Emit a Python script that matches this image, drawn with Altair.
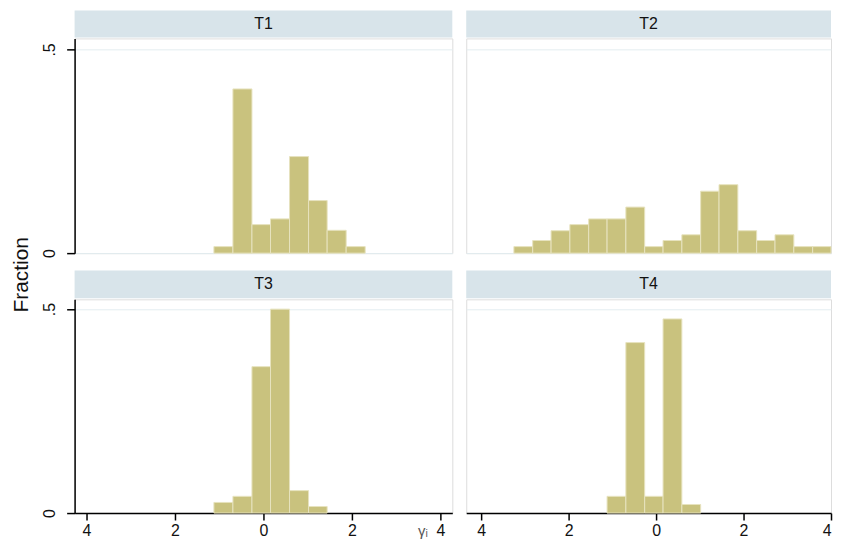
import altair as alt
import pandas as pd

# ---- data ----
bin_edges = [-3.25, -2.82, -2.40, -1.97, -1.54, -1.12, -0.69, -0.26, 0.16,
             0.59, 1.02, 1.44, 1.87, 2.30, 2.72, 3.15, 3.58, 4.00]
panels = ["T1", "T2", "T3", "T4"]
frac_t1 = [0, 0, 0, 0, 0, 0.016, 0.403, 0.070, 0.084, 0.237, 0.129, 0.056, 0.016, 0, 0, 0, 0]
frac_t2 = [0.016, 0.031, 0.055, 0.070, 0.084, 0.084, 0.113, 0.016, 0.031, 0.045,
           0.152, 0.168, 0.055, 0.031, 0.045, 0.016, 0.016]
frac_t3 = [0, 0, 0, 0, 0, 0.026, 0.041, 0.359, 0.500, 0.055, 0.016, 0, 0, 0, 0, 0, 0]
frac_t4 = [0, 0, 0, 0, 0, 0.041, 0.418, 0.041, 0.476, 0.021, 0, 0, 0, 0, 0, 0, 0]
x_ticks = [-4, -2, 0, 2, 4]
y_ticks = [0, 0.5]
x_title = "γᵢ"
y_title = "Fraction"

FONT = "Liberation Sans"
BAR = "#C9C27E"
BAR_EDGE = "#E7E3BE"
STRIP = "#D8E4EA"
GRID = "#E3EDF0"


def panel(name, fracs, show_y, show_x, width, height, xdom, ytop, strip_top,
          with_title=False):
    df = pd.DataFrame({"lo": bin_edges[:-1], "hi": bin_edges[1:], "frac": fracs})
    df = df[df["frac"] > 0].copy()
    df["base"] = 0.0

    xscale = alt.Scale(domain=xdom, nice=False, zero=False)
    yscale = alt.Scale(domain=[0, ytop], nice=False, zero=True)

    if show_x:
        xkw = dict(values=x_ticks, labelExpr="format(abs(datum.value), 'd')",
                   grid=False, domain=True, ticks=True, tickSize=7,
                   labelPadding=3, labelFontSize=16, labelFont=FONT,
                   labelColor="#111", domainColor="#000", tickColor="#000",
                   domainWidth=1.5, tickWidth=1.5, labelFlush=True)
        if with_title:
            xkw.update(title=x_title, titleX=350, titleY=23, titleAlign="center",
                       titleBaseline="alphabetic", titleFontSize=15, titleFont=FONT,
                       titleFontWeight="normal", titleColor="#555")
        else:
            xkw.update(title=None)
        xaxis = alt.Axis(**xkw)
    else:
        xaxis = None

    ykw = dict(values=y_ticks, grid=True, gridColor=GRID, gridWidth=1, title=None)
    if show_y:
        ykw.update(domain=True, ticks=True, labels=True, tickSize=8,
                   labelAngle=270, labelAlign="center", labelBaseline="bottom",
                   labelPadding=9, labelFontSize=16, labelFont=FONT, labelColor="#111",
                   labelExpr="datum.value == 0 ? '0' : '.5'",
                   domainColor="#000", tickColor="#000", domainWidth=1.5, tickWidth=1.5)
    else:
        ykw.update(domain=False, ticks=False, labels=False)
    yaxis = alt.Axis(**ykw)

    bars = alt.Chart(df).mark_rect(fill=BAR, stroke=BAR_EDGE, strokeWidth=1).encode(
        x=alt.X("lo:Q", scale=xscale, axis=xaxis),
        x2="hi:Q",
        y=alt.Y("frac:Q", scale=yscale, axis=yaxis),
        y2="base:Q",
    )
    lab = pd.DataFrame({"label": [name]})
    strip = alt.Chart(lab).mark_rect(fill=STRIP).encode(
        x=alt.value(0), x2=alt.value(width), y=alt.value(strip_top), y2=alt.value(-1))
    strip_text = alt.Chart(lab).mark_text(
        font=FONT, fontSize=16, color="#111", baseline="middle", align="center"
    ).encode(x=alt.value(width / 2), y=alt.value((strip_top - 1) / 2), text="label:N")
    return alt.layer(bars, strip, strip_text).properties(width=width, height=height)


WL, WR = 380, 367
DL, DR = [-4.27, 4.27], [-4.34, 4.0]

p1 = panel(panels[0], frac_t1, True, False, WL, 216, DL, 0.527, -28)
p2 = panel(panels[1], frac_t2, False, False, WR, 216, DR, 0.527, -28)
p3 = panel(panels[2], frac_t3, True, True, WL, 215, DL, 0.524, -29, with_title=True)
p4 = panel(panels[3], frac_t4, False, True, WR, 215, DR, 0.524, -29)

chart = alt.vconcat(
    alt.hconcat(p1, p2, spacing=12),
    alt.hconcat(p3, p4, spacing=12),
    spacing=11.5,
).properties(
    title=alt.TitleParams(text=y_title, orient="left", anchor="middle", fontSize=21,
                          font=FONT, fontWeight="normal", color="#111", offset=9),
    padding={"left": 3, "top": 0, "right": 0, "bottom": 0},
).configure_view(stroke=None).configure(background="white")

chart.save("out.html", embed_options={"renderer": "svg", "actions": False})
